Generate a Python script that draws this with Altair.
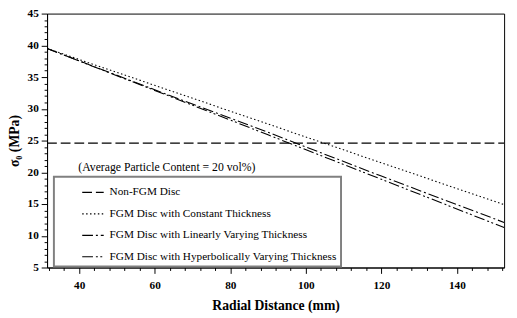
import altair as alt
import pandas as pd

# Read values
radial = [31.5, 60, 90, 120, 152.5]
non_fgm = [24.6, 24.6, 24.6, 24.6, 24.6]
fgm_const = [39.5, 33.7, 27.6, 21.5, 14.9]
fgm_linear = [39.5, 33.0, 26.3, 19.4, 12.1]
fgm_hyper = [39.5, 32.9, 25.9, 18.9, 11.3]

series_names = [
    "Non-FGM Disc",
    "FGM Disc with Constant Thickness",
    "FGM Disc with Linearly Varying Thickness",
    "FGM Disc with Hyperbolically Varying Thickness",
]
series_vals = [non_fgm, fgm_const, fgm_linear, fgm_hyper]
dashes = [[10, 4], [1.5, 2.5], [11, 3, 2, 3], [11, 3, 2, 2.5, 2, 3]]

x_ticks = list(range(32, 153, 4))
y_ticks = list(range(5, 46, 1))
note_text = ["(Average Particle Content = 20 vol%)"]

rows = []
for name, vals in zip(series_names, series_vals):
    for x, y in zip(radial, vals):
        rows.append({"series": name, "r": x, "s": y})
df = pd.DataFrame(rows)

FONT = "Liberation Serif"

lines = alt.Chart(df).mark_line(color="black", strokeWidth=1.1, clip=True).encode(
    x=alt.X(
        "r:Q",
        scale=alt.Scale(domain=[31.5, 152.5], nice=False, zero=False),
        axis=alt.Axis(
            title="Radial Distance (mm)",
            values=x_ticks,
            labelExpr="datum.value % 20 === 0 ? datum.label : ''",
            tickSize={"condition": {"test": "datum.value % 20 === 0", "value": 6}, "value": 3},
            labelPadding=6,
            titlePadding=8,
        ),
    ),
    y=alt.Y(
        "s:Q",
        scale=alt.Scale(domain=[5, 45], nice=False, zero=False),
        axis=alt.Axis(
            title="σ₀ (MPa)",
            values=y_ticks,
            labelExpr="datum.value % 5 === 0 ? datum.label : ''",
            tickSize={"condition": {"test": "datum.value % 5 === 0", "value": 6}, "value": 3},
            labelPadding=3,
            titlePadding=6,
        ),
    ),
    strokeDash=alt.StrokeDash(
        "series:N",
        scale=alt.Scale(domain=series_names, range=dashes),
        legend=alt.Legend(
            title=None,
            orient="none",
            legendX=7,
            legendY=167,
            padding=4,
            symbolOffset=24,
            symbolType="stroke",
            symbolSize=484,
            symbolStrokeWidth=1.2,
            symbolStrokeColor="black",
            labelFont=FONT,
            labelFontSize=11.5,
            labelColor="black",
            labelLimit=400,
            labelOffset=5,
            rowPadding=4,
            strokeColor="#808080",
            fillColor="white",
        ),
    ),
    order=alt.Order("r:Q"),
)

note = alt.Chart(pd.DataFrame({"t": note_text})).mark_text(
    font=FONT, fontSize=12, align="left", baseline="middle", color="black"
).encode(x=alt.value(32), y=alt.value(157), text="t:N")

chart = (
    alt.layer(lines, note)
    .properties(
        width=468,
        height=260,
        autosize=alt.AutoSizeParams(type="none"),
        padding={"left": 40, "top": 2, "right": 5, "bottom": 50},
    )
    .configure_view(stroke="black", strokeWidth=1)
    .configure_axis(
        grid=False,
        domainColor="black",
        domainWidth=1,
        tickColor="black",
        tickWidth=1,
        labelFont=FONT,
        labelFontSize=11.5,
        labelFontWeight="bold",
        labelColor="black",
        titleFont=FONT,
        titleFontSize=14,
        titleFontWeight="bold",
        titleColor="black",
    )
    .configure_legend(strokeWidth=2)
)

chart.save("out.html", embed_options={"renderer": "svg", "actions": False})
